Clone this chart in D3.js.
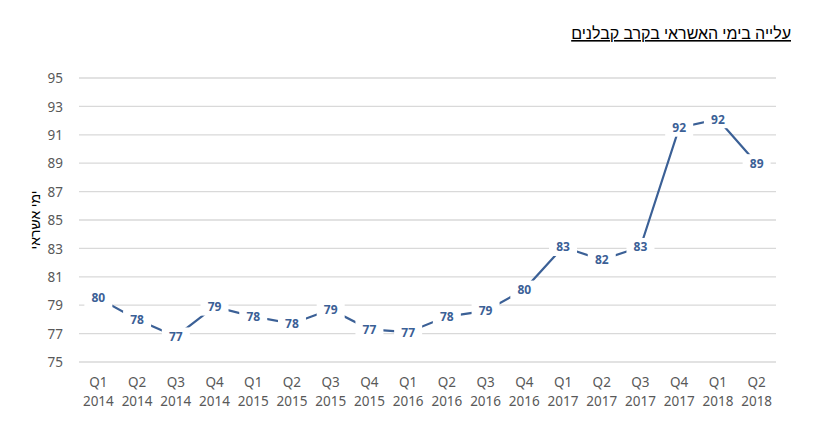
<!DOCTYPE html>
<html><head><meta charset="utf-8">
<script src="https://cdn.jsdelivr.net/npm/d3@7"></script>
<style>body{margin:0;background:#fff;} text{font-family:"Noto Sans","Liberation Sans",Arial,sans-serif;}</style>
</head><body>
<svg id="c" width="820" height="440"></svg>
<script>
const quarters = ["Q1","Q2","Q3","Q4","Q1","Q2","Q3","Q4","Q1","Q2","Q3","Q4","Q1","Q2","Q3","Q4","Q1","Q2"];
const years = ["2014","2014","2014","2014","2015","2015","2015","2015","2016","2016","2016","2016","2017","2017","2017","2017","2018","2018"];
const values = [79.5,78.0,76.8,78.9,78.2,77.7,78.7,77.3,77.1,78.2,78.6,80.1,83.1,82.2,83.1,91.5,92.1,89.0];
const yTicks = [75,77,79,81,83,85,87,89,91,93,95];
const title = "עלייה בימי האשראי בקרב קבלנים";
const yTitle = "ימי אשראי";

(function(){
const svg = d3.select("#c");
const pl = 79, pr = 776, pt = 78, pb = 362;
const cats = quarters.map((q,i)=>i);
const x = d3.scaleBand().domain(cats).range([pl,pr]);
const y = d3.scaleLinear().domain([75,95]).range([pb,pt]);
const col = "#3B6096";

svg.append("g").selectAll("line").data(yTicks).join("line")
  .attr("x1",pl).attr("x2",pr)
  .attr("y1",d=>y(d)).attr("y2",d=>y(d))
  .attr("stroke","#d9d9d9").attr("stroke-width",1.3);

const yAxis = d3.axisLeft(y).tickValues(yTicks).tickSize(0).tickPadding(0);
const ga = svg.append("g").attr("transform",`translate(${pl-16},0)`).call(yAxis);
ga.select(".domain").remove();
ga.selectAll("text").attr("font-size",13.5).attr("fill","#595959").attr("dy","0.35em")
  .attr("font-family","'Noto Sans',sans-serif");

const xg = svg.append("g");
cats.forEach(i=>{
  const cx = x(i)+x.bandwidth()/2;
  const t = xg.append("text").attr("x",cx).attr("text-anchor","middle")
    .attr("font-size",13.5).attr("fill","#595959");
  t.append("tspan").attr("x",cx).attr("y",387).text(quarters[i]);
  t.append("tspan").attr("x",cx).attr("y",406).text(years[i]);
});

const line = d3.line().x((d,i)=>x(i)+x.bandwidth()/2).y(d=>y(d));
svg.append("path").datum(values).attr("d",line).attr("fill","none")
  .attr("stroke",col).attr("stroke-width",2.2);

const lg = svg.append("g");
values.forEach((v,i)=>{
  const cx = x(i)+x.bandwidth()/2, cy = y(v);
  lg.append("rect").attr("x",cx-14).attr("y",cy-9).attr("width",28).attr("height",18).attr("fill","#fff");
  lg.append("text").attr("x",cx).attr("y",cy).attr("dy","0.36em").attr("text-anchor","middle")
    .attr("font-size",12).attr("font-weight","bold").attr("fill",col).text(Math.round(v));
});

svg.append("text").attr("x",791).attr("y",39).attr("text-anchor","start")
  .attr("font-size",16).attr("fill","#000").attr("direction","rtl")
  .attr("font-family","'Liberation Sans','DejaVu Sans',sans-serif")
  .attr("text-decoration","underline").text(title);

svg.append("text").attr("transform","translate(40,220) rotate(-90)").attr("text-anchor","middle")
  .attr("font-size",14).attr("fill","#000").attr("direction","rtl").text(yTitle);
})();
</script>
</body></html>
